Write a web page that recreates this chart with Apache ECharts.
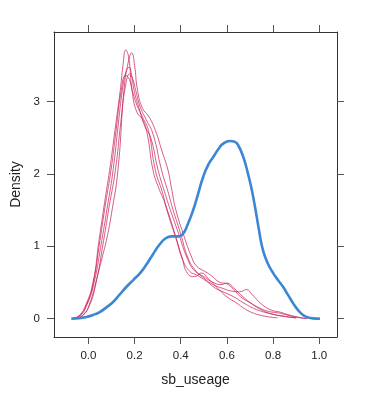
<!DOCTYPE html>
<html>
<head>
<meta charset="utf-8">
<script src="https://cdn.jsdelivr.net/npm/echarts@6/dist/echarts.min.js"></script>
<style>
html,body{margin:0;padding:0;background:#fff;}
#chart{width:369px;height:399px;}
</style>
</head>
<body>
<div id="chart"></div>
<script>
// Tick labels
const xTicks = [0, 0.2, 0.4, 0.6, 0.8, 1.0];
const yTicks = [0, 1, 2, 3];
const xTitle = "sb_useage";
const yTitle = "Density";

// Observed density (blue)
const observed = [
  [-0.074,0],[-0.04,0.005],[-0.009,0.022],[0.02,0.05],[0.049,0.091],[0.078,0.155],
  [0.107,0.23],[0.135,0.33],[0.165,0.44],[0.195,0.535],[0.223,0.625],[0.25,0.74],
  [0.28,0.89],[0.31,1.03],[0.335,1.11],[0.36,1.135],[0.39,1.135],[0.41,1.17],
  [0.43,1.3],[0.454,1.5],[0.475,1.72],[0.497,1.956],[0.52,2.13],[0.541,2.232],
  [0.565,2.35],[0.584,2.417],[0.613,2.453],[0.635,2.44],[0.649,2.394],[0.671,2.232],
  [0.69,2.02],[0.705,1.82],[0.721,1.56],[0.737,1.26],[0.752,1.0],[0.767,0.84],
  [0.782,0.73],[0.801,0.625],[0.822,0.53],[0.844,0.436],[0.866,0.32],[0.888,0.207],
  [0.91,0.11],[0.931,0.046],[0.952,0.015],[0.974,0.003],[1.003,0]
];

// Simulated densities (red)
const simA = [
  [-0.07,0],[-0.04,0.04],[-0.01,0.2],[0.02,0.5],[0.046,1.08],[0.07,1.6],[0.092,2.05],
  [0.115,2.6],[0.138,3.15],[0.15,3.5],[0.162,3.71],[0.175,3.6],[0.189,3.15],[0.21,2.85],
  [0.235,2.75],[0.255,2.55],[0.28,2.05],[0.305,1.8],[0.331,1.6],[0.374,1.18],[0.405,0.85],
  [0.43,0.62],[0.46,0.58],[0.49,0.63],[0.52,0.55],[0.56,0.42],[0.6,0.3],[0.64,0.22],
  [0.68,0.13],[0.72,0.07],[0.77,0.03],[0.82,0.01]
];
const simB = [
  [-0.06,0],[-0.02,0.06],[0.01,0.25],[0.04,0.6],[0.06,0.85],[0.078,1.08],[0.10,1.45],
  [0.128,2.05],[0.154,3.15],[0.17,3.5],[0.188,3.67],[0.2,3.5],[0.213,3.15],[0.235,2.9],
  [0.26,2.8],[0.29,2.6],[0.32,2.3],[0.345,2.05],[0.36,1.8],[0.379,1.5],[0.41,1.18],
  [0.447,0.85],[0.47,0.72],[0.5,0.66],[0.53,0.6],[0.57,0.5],[0.6,0.48],[0.63,0.4],
  [0.66,0.3],[0.7,0.22],[0.74,0.15],[0.78,0.1],[0.82,0.08],[0.86,0.05],[0.9,0.02],[0.945,0]
];
const simC = [
  [-0.07,0],[-0.035,0.04],[-0.005,0.2],[0.025,0.5],[0.058,1.08],[0.085,1.6],[0.107,2.05],
  [0.13,2.7],[0.147,3.15],[0.162,3.4],[0.176,3.47],[0.188,3.35],[0.198,3.15],[0.22,2.9],
  [0.245,2.65],[0.27,2.5],[0.302,2.05],[0.33,1.75],[0.35,1.55],[0.39,1.18],[0.43,0.82],
  [0.46,0.66],[0.5,0.58],[0.54,0.5],[0.575,0.47],[0.6,0.49],[0.63,0.42],[0.67,0.3],
  [0.71,0.2],[0.75,0.12],[0.8,0.06],[0.85,0.03],[0.9,0.01]
];
const simD = [
  [-0.07,0],[-0.04,0.04],[-0.01,0.18],[0.02,0.48],[0.05,1.08],[0.075,1.6],[0.098,2.05],
  [0.12,2.6],[0.14,3.1],[0.162,3.36],[0.178,3.3],[0.19,3.15],[0.21,2.95],[0.235,2.78],
  [0.26,2.6],[0.29,2.05],[0.32,1.75],[0.34,1.5],[0.38,1.1],[0.41,0.8],[0.44,0.65],
  [0.47,0.6],[0.51,0.52],[0.55,0.42],[0.59,0.36],[0.63,0.3],[0.67,0.22],[0.71,0.15],
  [0.75,0.1],[0.8,0.06],[0.85,0.03],[0.9,0.01]
];
const simE = [
  [-0.06,0],[-0.03,0.03],[0.0,0.15],[0.03,0.45],[0.066,1.08],[0.09,1.55],[0.117,2.05],
  [0.14,2.7],[0.16,3.2],[0.179,3.38],[0.193,3.3],[0.205,3.15],[0.225,2.92],[0.25,2.75],
  [0.28,2.55],[0.317,2.05],[0.345,1.75],[0.367,1.5],[0.399,1.18],[0.43,0.85],[0.46,0.68],
  [0.5,0.56],[0.54,0.47],[0.58,0.42],[0.62,0.38],[0.655,0.37],[0.685,0.4],[0.71,0.33],
  [0.75,0.2],[0.79,0.12],[0.83,0.09],[0.87,0.05],[0.91,0.02],[0.945,0]
];
const simulated = [simA, simB, simC, simD, simE];

const chart = echarts.init(document.getElementById('chart'), null, {renderer: 'canvas'});
const FONT = 'Liberation Sans, Arial, Helvetica, sans-serif';
const BOX = '#333';
const TICK = '#555';
const xMin = -0.149, xMax = 1.077, yMin = -0.254, yMax = 3.958;

function xAx(pos, labels) {
  return {
    type: 'value', position: pos, min: xMin, max: xMax,
    axisLine: {show: true, onZero: false, lineStyle: {color: BOX, width: 1}},
    axisTick: {show: true, inside: false, length: 7, customValues: xTicks, lineStyle: {color: TICK}},
    axisLabel: {show: labels, customValues: xTicks, margin: 13, fontSize: 11.5, color: '#222',
      fontFamily: FONT, formatter: v => v.toFixed(1)},
    splitLine: {show: false},
    name: labels ? xTitle : '', nameLocation: 'middle', nameGap: 36,
    nameTextStyle: {fontSize: 14, color: '#222', fontFamily: FONT}
  };
}
function yAx(pos, labels) {
  return {
    type: 'value', position: pos, min: yMin, max: yMax,
    axisLine: {show: true, onZero: false, lineStyle: {color: BOX, width: 1}},
    axisTick: {show: true, inside: false, length: 7, customValues: yTicks, lineStyle: {color: TICK}},
    axisLabel: {show: labels, customValues: yTicks, margin: 14, fontSize: 11.5, color: '#222',
      fontFamily: FONT, formatter: v => String(v)},
    splitLine: {show: false},
    name: labels ? yTitle : '', nameLocation: 'middle', nameGap: 31, nameRotate: 90,
    nameTextStyle: {fontSize: 14, color: '#222', fontFamily: FONT}
  };
}

const series = [];
simulated.forEach((d, i) => {
  series.push({
    type: 'line', data: d, smooth: 0.5, symbol: 'none', xAxisIndex: 0, yAxisIndex: 0,
    lineStyle: {color: 'rgba(198,30,88,0.72)', width: 1}, z: 2, silent: true
  });
});
series.push({
  type: 'line', data: observed, smooth: 0.5, symbol: 'none', xAxisIndex: 0, yAxisIndex: 0,
  lineStyle: {color: '#3c86d6', width: 2.6}, z: 3, silent: true
});

chart.setOption({
  animation: false,
  backgroundColor: '#fff',
  grid: {left: 54, right: 32, top: 32, bottom: 62, containLabel: false},
  xAxis: [xAx('bottom', true), xAx('top', false)],
  yAxis: [yAx('left', true), yAx('right', false)],
  series: series
});
</script>
</body>
</html>
